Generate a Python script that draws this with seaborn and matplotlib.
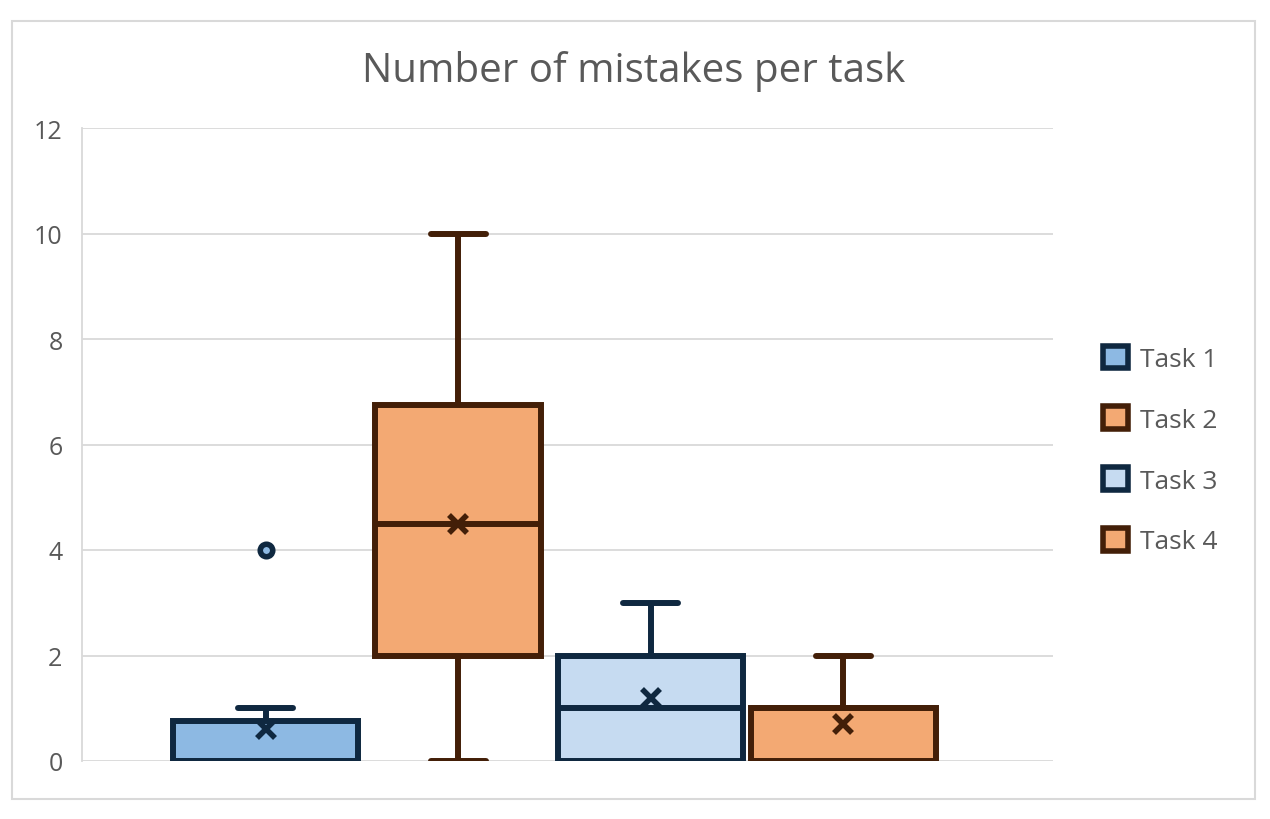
import matplotlib
matplotlib.use("Agg")
import matplotlib.pyplot as plt
from matplotlib.patches import Patch, Rectangle
import seaborn as sns
import pandas as pd

# ---- data ----
tasks = ["Task 1", "Task 2", "Task 3", "Task 4"]
task1 = [0, 0, 0, 0, 0, 0, 0, 1, 1, 4]
task2 = [0, 1, 2, 2, 4, 5, 6, 7, 8, 10]
task3 = [0, 0, 0, 0, 1, 1, 2, 2, 3, 3]
task4 = [0, 0, 0, 0, 1, 1, 1, 1, 1, 2]
yticks = [0, 2, 4, 6, 8, 10, 12]
title = "Number of mistakes per task"

fills = ["#8DB9E3", "#F3A973", "#C6DBF1", "#F3A973"]
edges = ["#0F2840", "#431F08", "#0F2840", "#431F08"]
box_widths = [0.96, 0.86, 0.96, 0.96]

values = [task1, task2, task3, task4]
df = pd.DataFrame({
    "Task": [t for t, v in zip(tasks, values) for _ in v],
    "Mistakes": [x for v in values for x in v],
})

sns.set_theme(style="white")
plt.rcParams["font.family"] = ["Open Sans", "DejaVu Sans"]

grey = "#595959"
fig = plt.figure(figsize=(12.7, 8.2), dpi=100)
ax = fig.add_axes([82 / 1270, 58 / 820, (1053 - 82) / 1270, (762 - 129) / 820])

palette = dict(zip(tasks, fills))
for t, f, ec, w in zip(tasks, fills, edges, box_widths):
    sub = df[df["Task"] == t]
    sns.boxplot(
        data=sub, x="Task", y="Mistakes", hue="Task",
        order=tasks, hue_order=tasks, palette=palette, saturation=1,
        dodge=False, width=w, linecolor=ec, linewidth=4.3,
        showmeans=True, legend=False, ax=ax,
        meanprops=dict(marker="x", markeredgecolor=ec, markersize=12.5,
                       markeredgewidth=4),
        flierprops=dict(marker="o", markerfacecolor=f,
                        markeredgecolor=ec, markersize=9,
                        markeredgewidth=4),
        capwidths=0.285,
    )

ax.set_xlim(-0.954, 4.09)
ax.set_ylim(0, 12)
ax.set_yticks(yticks)
ax.set_xticks([])
ax.set_xlabel("")
ax.set_ylabel("")
ax.grid(axis="y", color="#D9D9D9", linewidth=1.3)
ax.set_axisbelow(True)
for s in ["top", "right", "bottom"]:
    ax.spines[s].set_visible(False)
ax.spines["left"].set_color("#D9D9D9")
ax.spines["left"].set_linewidth(1.3)
ax.tick_params(axis="y", length=0, pad=14, labelsize=18, labelcolor=grey)

handles = [Patch(facecolor=f, edgecolor=e, linewidth=4) for f, e in zip(fills, edges)]
fig.legend(handles, tasks, loc="center left",
           bbox_to_anchor=(1103 / 1270, (820 - 451) / 820),
           frameon=False, fontsize=19, labelcolor=grey,
           borderpad=0, borderaxespad=0,
           handlelength=0.95, handleheight=0.95, handletextpad=0.45,
           labelspacing=1.3)

fig.text(634 / 1270, (820 - 72) / 820, title, ha="center", va="center",
         fontsize=29, color=grey)

fig.patches.append(Rectangle((12 / 1270, 20 / 820), 1243 / 1270, 778 / 820,
                             transform=fig.transFigure, fill=False,
                             edgecolor="#D9D9D9", linewidth=1.5))

fig.savefig("out.png", dpi=100)
